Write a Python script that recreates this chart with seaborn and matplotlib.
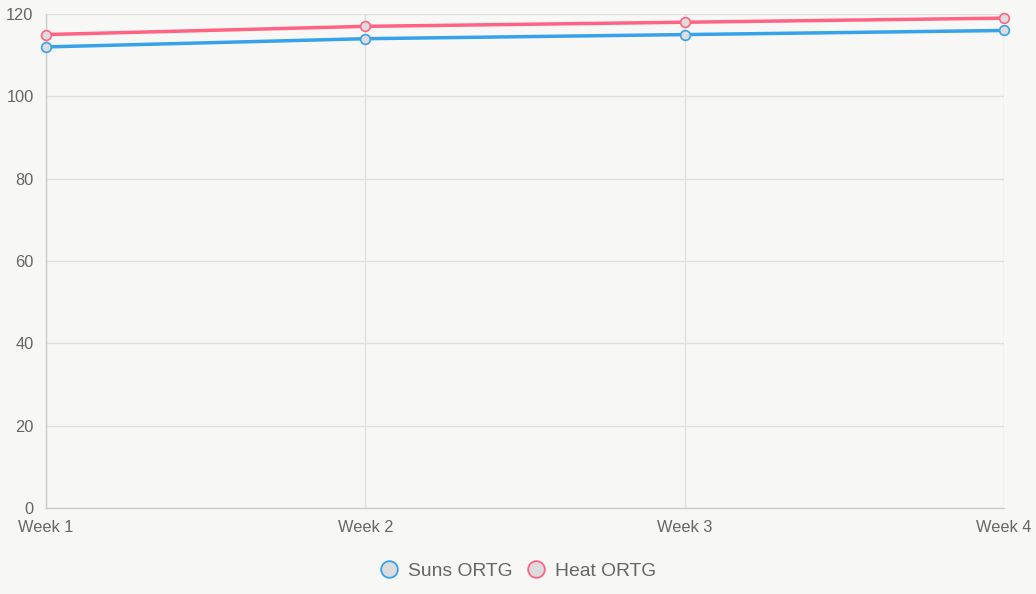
import seaborn as sns
import matplotlib.pyplot as plt
import pandas as pd
from matplotlib.lines import Line2D

# Data
weeks = ['Week 1', 'Week 2', 'Week 3', 'Week 4']
suns_ortg = [112, 114, 115, 116]
heat_ortg = [115, 117, 118, 119]

colors = {'Suns ORTG': '#36a2eb', 'Heat ORTG': '#ff6384'}

df = pd.DataFrame({
    'week': weeks * 2,
    'value': suns_ortg + heat_ortg,
    'series': ['Suns ORTG'] * len(weeks) + ['Heat ORTG'] * len(weeks),
})
df['pos'] = df['week'].map({w: i for i, w in enumerate(weeks)})

sns.set_style("white")
plt.rcParams['font.family'] = ['Liberation Sans', 'DejaVu Sans']

bg = '#f7f7f5'
fig = plt.figure(figsize=(10.36, 5.94), dpi=100, facecolor=bg)
ax = fig.add_axes([46 / 1036, 86 / 594, 958 / 1036, 494 / 594])
ax.set_facecolor(bg)

sns.lineplot(data=df, x='pos', y='value', hue='series', palette=colors,
             linewidth=2.5, marker='o', markersize=7, markerfacecolor='#dcdcdc',
             markeredgewidth=1.2, legend=False, ax=ax, zorder=3)
# marker edge colours match lines, and don't clip the end markers
for line in ax.get_lines():
    line.set_markeredgecolor(line.get_color())
    line.set_clip_on(False)

ax.set_xlim(0, len(weeks) - 1)
ax.set_ylim(0, 120)
ax.set_xticks(range(len(weeks)))
ax.set_xticklabels(weeks)
ax.set_yticks(range(0, 121, 20))
ax.set_xlabel('')
ax.set_ylabel('')

ax.grid(True, color='#e0e0e0', linewidth=1)
ax.set_axisbelow(True)
for side in ['top', 'right']:
    ax.spines[side].set_visible(False)
for side in ['left', 'bottom']:
    ax.spines[side].set_color('#cccccc')
    ax.spines[side].set_linewidth(1)
ax.tick_params(axis='both', colors='#e0e0e0', labelcolor='#666666',
               labelsize=11.8, length=7, width=1)
ax.tick_params(axis='y', pad=2)
ax.tick_params(axis='x', pad=2)

handles = [Line2D([], [], linestyle='none', marker='o', markersize=12,
                  markerfacecolor='#dcdcdc', markeredgecolor=c, markeredgewidth=1.3,
                  label=name) for name, c in colors.items()]
fig.legend(handles=handles, loc='center', bbox_to_anchor=(0.5, 1 - 571 / 594),
           ncol=2, frameon=False, fontsize=13.9, labelcolor='#666666',
           handlelength=1.0, handletextpad=0.48, columnspacing=0.74)

plt.savefig('out.png', dpi=100, facecolor=bg)
